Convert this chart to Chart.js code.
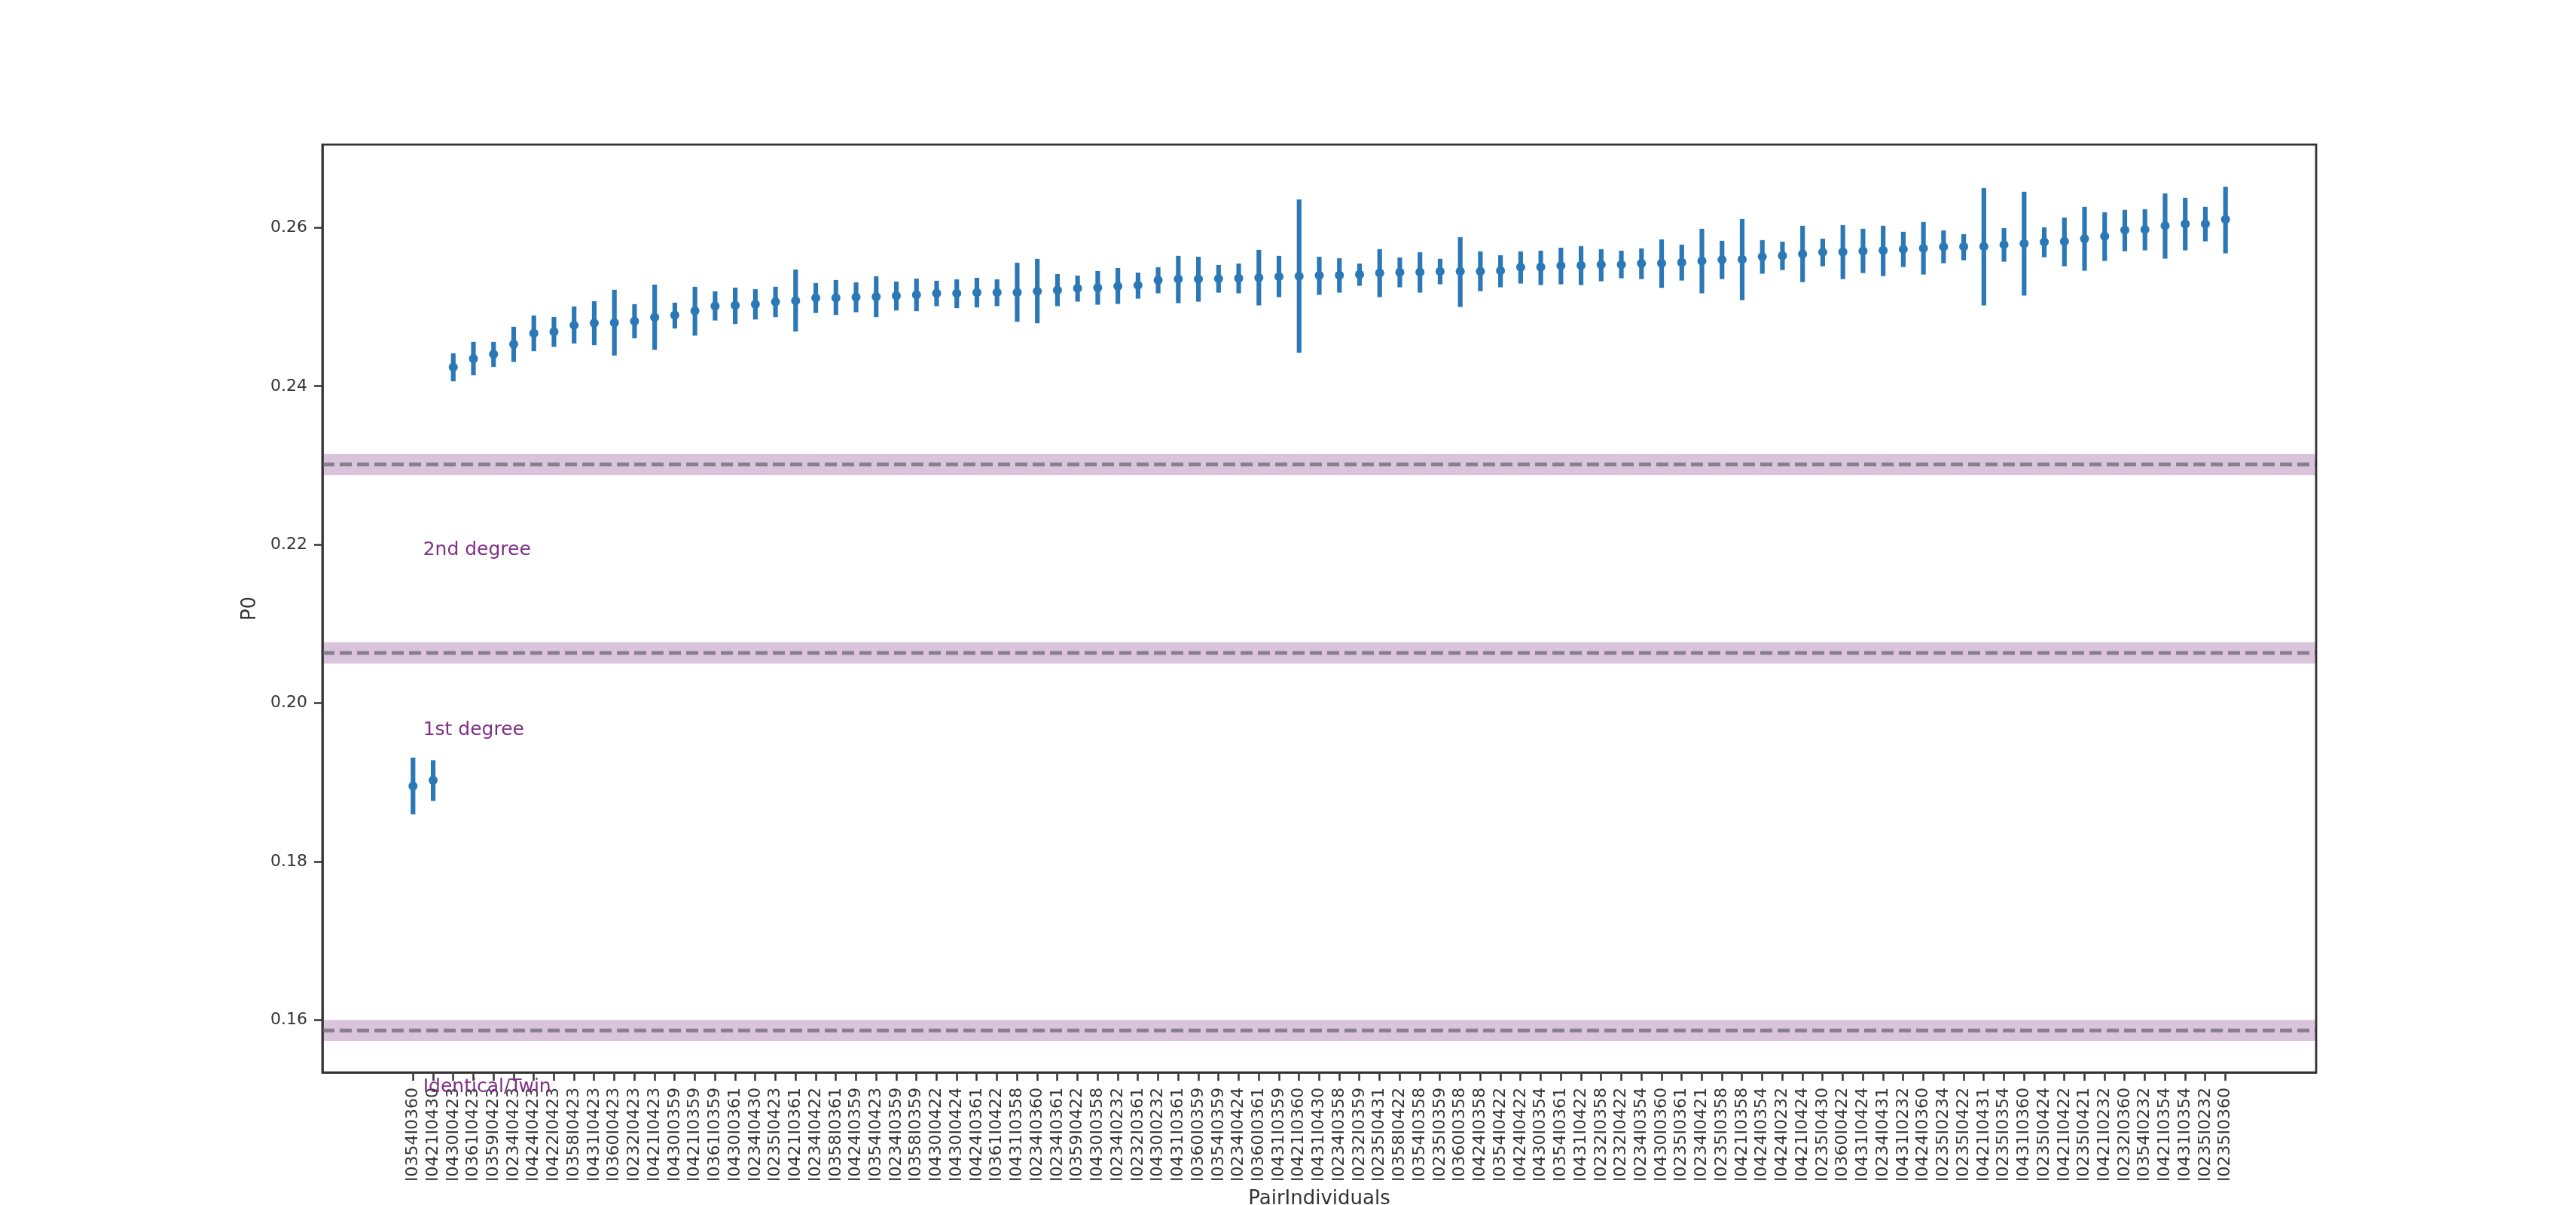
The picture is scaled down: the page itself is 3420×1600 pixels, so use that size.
<!DOCTYPE html>
<html>
<head>
<meta charset="utf-8">
<script src="https://cdn.jsdelivr.net/npm/chart.js@4.4.1/dist/chart.umd.min.js"></script>
<style>
  html, body { margin: 0; padding: 0; background: #fff; }
  #wrap { width: 3420px; height: 1600px; }
</style>
</head>
<body>
<div id="wrap"><canvas id="chart" width="3420" height="1600"></canvas></div>
<script>
// pairs of individuals, in plotted order
const pairLabels = [
  'I0354I0360', 'I0421I0430', 'I0430I0423', 'I0361I0423', 'I0359I0423', 'I0234I0423', 'I0424I0423',
  'I0422I0423', 'I0358I0423', 'I0431I0423', 'I0360I0423', 'I0232I0423', 'I0421I0423', 'I0430I0359',
  'I0421I0359', 'I0361I0359', 'I0430I0361', 'I0234I0430', 'I0235I0423', 'I0421I0361', 'I0234I0422',
  'I0358I0361', 'I0424I0359', 'I0354I0423', 'I0234I0359', 'I0358I0359', 'I0430I0422', 'I0430I0424',
  'I0424I0361', 'I0361I0422', 'I0431I0358', 'I0234I0360', 'I0234I0361', 'I0359I0422', 'I0430I0358',
  'I0234I0232', 'I0232I0361', 'I0430I0232', 'I0431I0361', 'I0360I0359', 'I0354I0359', 'I0234I0424',
  'I0360I0361', 'I0431I0359', 'I0421I0360', 'I0431I0430', 'I0234I0358', 'I0232I0359', 'I0235I0431',
  'I0358I0422', 'I0354I0358', 'I0235I0359', 'I0360I0358', 'I0424I0358', 'I0354I0422', 'I0424I0422',
  'I0430I0354', 'I0354I0361', 'I0431I0422', 'I0232I0358', 'I0232I0422', 'I0234I0354', 'I0430I0360',
  'I0235I0361', 'I0234I0421', 'I0235I0358', 'I0421I0358', 'I0424I0354', 'I0424I0232', 'I0421I0424',
  'I0235I0430', 'I0360I0422', 'I0431I0424', 'I0234I0431', 'I0431I0232', 'I0424I0360', 'I0235I0234',
  'I0235I0422', 'I0421I0431', 'I0235I0354', 'I0431I0360', 'I0235I0424', 'I0421I0422', 'I0235I0421',
  'I0421I0232', 'I0232I0360', 'I0354I0232', 'I0421I0354', 'I0431I0354', 'I0235I0232', 'I0235I0360'
];

// P0 estimate per pair
const p0Mean = [
  0.18954, 0.19027, 0.24241, 0.24348, 0.24405, 0.24532, 0.24669, 0.24688, 0.24770, 0.24798,
  0.24802, 0.24821, 0.24871, 0.24897, 0.24951, 0.25014, 0.25020, 0.25036, 0.25065, 0.25081,
  0.25115, 0.25115, 0.25125, 0.25131, 0.25141, 0.25153, 0.25172, 0.25172, 0.25182, 0.25185,
  0.25185, 0.25198, 0.25214, 0.25236, 0.25245, 0.25264, 0.25274, 0.25340, 0.25353, 0.25353,
  0.25359, 0.25363, 0.25369, 0.25385, 0.25388, 0.25398, 0.25401, 0.25410, 0.25429, 0.25439,
  0.25442, 0.25449, 0.25450, 0.25451, 0.25458, 0.25502, 0.25505, 0.25521, 0.25524, 0.25537,
  0.25537, 0.25550, 0.25553, 0.25562, 0.25581, 0.25597, 0.25600, 0.25635, 0.25648, 0.25670,
  0.25692, 0.25695, 0.25708, 0.25714, 0.25730, 0.25740, 0.25760, 0.25761, 0.25765, 0.25787,
  0.25800, 0.25822, 0.25829, 0.25863, 0.25892, 0.25971, 0.25978, 0.26025, 0.26050, 0.26050,
  0.26107
];

// lower / upper end of each error bar
const p0Low = [
  0.18600, 0.18770, 0.24066, 0.24142, 0.24247, 0.24310, 0.24447, 0.24500, 0.24542, 0.24523,
  0.24390, 0.24608, 0.24462, 0.24732, 0.24643, 0.24833, 0.24789, 0.24846, 0.24875, 0.24694,
  0.24928, 0.24903, 0.24938, 0.24875, 0.24960, 0.24951, 0.25014, 0.24989, 0.24998, 0.25014,
  0.24817, 0.24798, 0.25014, 0.25071, 0.25033, 0.25042, 0.25109, 0.25176, 0.25052, 0.25071,
  0.25185, 0.25176, 0.25024, 0.25128, 0.24424, 0.25157, 0.25185, 0.25271, 0.25128, 0.25252,
  0.25185, 0.25290, 0.25004, 0.25204, 0.25252, 0.25299, 0.25280, 0.25290, 0.25280, 0.25328,
  0.25366, 0.25356, 0.25245, 0.25337, 0.25176, 0.25356, 0.25090, 0.25423, 0.25470, 0.25318,
  0.25518, 0.25356, 0.25432, 0.25394, 0.25508, 0.25413, 0.25556, 0.25594, 0.25024, 0.25575,
  0.25147, 0.25632, 0.25518, 0.25461, 0.25585, 0.25708, 0.25718, 0.25613, 0.25718, 0.25832,
  0.25680
];
const p0High = [
  0.19310, 0.19278, 0.24412, 0.24558, 0.24558, 0.24748, 0.24890, 0.24871, 0.25004, 0.25071,
  0.25214, 0.25033, 0.25280, 0.25052, 0.25252, 0.25195, 0.25242, 0.25223, 0.25252, 0.25470,
  0.25299, 0.25337, 0.25309, 0.25385, 0.25318, 0.25356, 0.25328, 0.25347, 0.25366, 0.25347,
  0.25556, 0.25604, 0.25413, 0.25394, 0.25451, 0.25489, 0.25432, 0.25499, 0.25642, 0.25632,
  0.25527, 0.25546, 0.25718, 0.25642, 0.26355, 0.25632, 0.25613, 0.25546, 0.25727, 0.25623,
  0.25689, 0.25604, 0.25879, 0.25699, 0.25651, 0.25699, 0.25708, 0.25746, 0.25765, 0.25727,
  0.25708, 0.25737, 0.25851, 0.25784, 0.25984, 0.25832, 0.26107, 0.25841, 0.25822, 0.26022,
  0.25860, 0.26031, 0.25984, 0.26022, 0.25946, 0.26069, 0.25965, 0.25917, 0.26497, 0.25993,
  0.26450, 0.26003, 0.26126, 0.26260, 0.26193, 0.26222, 0.26231, 0.26431, 0.26374, 0.26260,
  0.26516
];

// relatedness thresholds (dashed line) and their shaded band
const refLines = [0.23012, 0.20635, 0.15871];
const bandLow = [0.22877, 0.20500, 0.15739];
const bandHigh = [0.23147, 0.20770, 0.16003];

// text labels under each threshold
const degreeNames = ['2nd degree', '1st degree', 'Identical/Twin'];
const degreeTextY = [0.2187, 0.1960, 0.1509];
const degreeTextX = 0.5;

const yTickValues = [0.16, 0.18, 0.20, 0.22, 0.24, 0.26];
const xMin = -4.5, xMax = 94.5;

const blue = '#2a78b6';
const purple = '#7f2f85';
const axisColor = '#333333';

Chart.defaults.font.family = '"DejaVu Sans"';
Chart.defaults.color = axisColor;

const datasets = [];

// shaded bands + dashed lines
refLines.forEach(function(v, i) {
  datasets.push({
    type: 'line',
    data: [{x: xMin, y: bandHigh[i]}, {x: xMax, y: bandHigh[i]}],
    borderWidth: 0,
    pointRadius: 0,
    backgroundColor: 'rgba(128, 60, 140, 0.3)',
    fill: {value: bandLow[i]},
    order: 10
  });
  datasets.push({
    type: 'line',
    data: [{x: xMin, y: v}, {x: xMax, y: v}],
    borderColor: '#877f8d',
    borderWidth: 5,
    borderDash: [16, 7],
    pointRadius: 0,
    fill: false,
    order: 9
  });
});

// error bars
datasets.push({
  type: 'bar',
  data: pairLabels.map((_, i) => ({x: i, y: [p0Low[i], p0High[i]]})),
  backgroundColor: blue,
  borderWidth: 0,
  barThickness: 5.5,
  order: 2
});

// point estimates
datasets.push({
  type: 'line',
  data: pairLabels.map((_, i) => ({x: i, y: p0Mean[i]})),
  showLine: false,
  pointRadius: 6,
  pointBackgroundColor: blue,
  pointBorderColor: blue,
  pointBorderWidth: 0,
  order: 1
});

const framePlugin = {
  id: 'frameAndText',
  afterDraw(chart) {
    const {ctx, chartArea, scales} = chart;
    ctx.save();
    ctx.strokeStyle = axisColor;
    ctx.lineWidth = 2.8;
    ctx.strokeRect(chartArea.left, chartArea.top, chartArea.right - chartArea.left, chartArea.bottom - chartArea.top);

    ctx.fillStyle = purple;
    ctx.font = '25px "DejaVu Sans"';
    ctx.textAlign = 'left';
    ctx.textBaseline = 'alphabetic';
    degreeNames.forEach(function(name, i) {
      ctx.fillText(name, scales.x.getPixelForValue(degreeTextX), scales.y.getPixelForValue(degreeTextY[i]));
    });
    ctx.restore();
  }
};

new Chart(document.getElementById('chart'), {
  type: 'bar',
  data: {datasets: datasets},
  options: {
    responsive: false,
    animation: false,
    devicePixelRatio: 1,
    layout: {padding: {left: 300, right: 345, top: 192, bottom: 0}},
    plugins: {legend: {display: false}, tooltip: {enabled: false}},
    scales: {
      x: {
        type: 'linear',
        min: xMin,
        max: xMax,
        offset: false,
        grid: {drawOnChartArea: false, offset: false, tickLength: 11, tickWidth: 2.5, tickColor: axisColor},
        border: {display: true, color: axisColor, width: 2.8},
        afterBuildTicks: function(scale) {
          scale.ticks = pairLabels.map((_, i) => ({value: i}));
        },
        afterFit: function(scale) {
          scale.height = 176;
          scale.paddingLeft = 0;
          scale.paddingRight = 0;
        },
        ticks: {
          autoSkip: false,
          minRotation: 90,
          maxRotation: 90,
          padding: 9,
          font: {size: 22},
          color: axisColor,
          callback: function(v) { return pairLabels[v]; }
        },
        title: {
          display: true,
          text: 'PairIndividuals',
          font: {size: 26, lineHeight: 0.6},
          color: axisColor,
          padding: {top: 0, bottom: 0}
        }
      },
      y: {
        min: 0.1534,
        max: 0.2705,
        grid: {drawOnChartArea: false, tickLength: 11, tickWidth: 2.5, tickColor: axisColor},
        border: {display: true, color: axisColor, width: 2.8},
        afterBuildTicks: function(scale) {
          scale.ticks = yTickValues.map(v => ({value: v}));
        },
        afterFit: function(scale) {
          scale.width = 128;
          scale.paddingTop = 0;
          scale.paddingBottom = 0;
        },
        ticks: {
          padding: 9,
          font: {size: 22},
          color: axisColor,
          callback: function(v) { return v.toFixed(2); }
        },
        title: {
          display: true,
          text: 'P0',
          font: {size: 26, lineHeight: 1},
          color: axisColor,
          padding: {top: 19, bottom: 0}
        }
      }
    }
  },
  plugins: [framePlugin]
});
</script>
</body>
</html>
